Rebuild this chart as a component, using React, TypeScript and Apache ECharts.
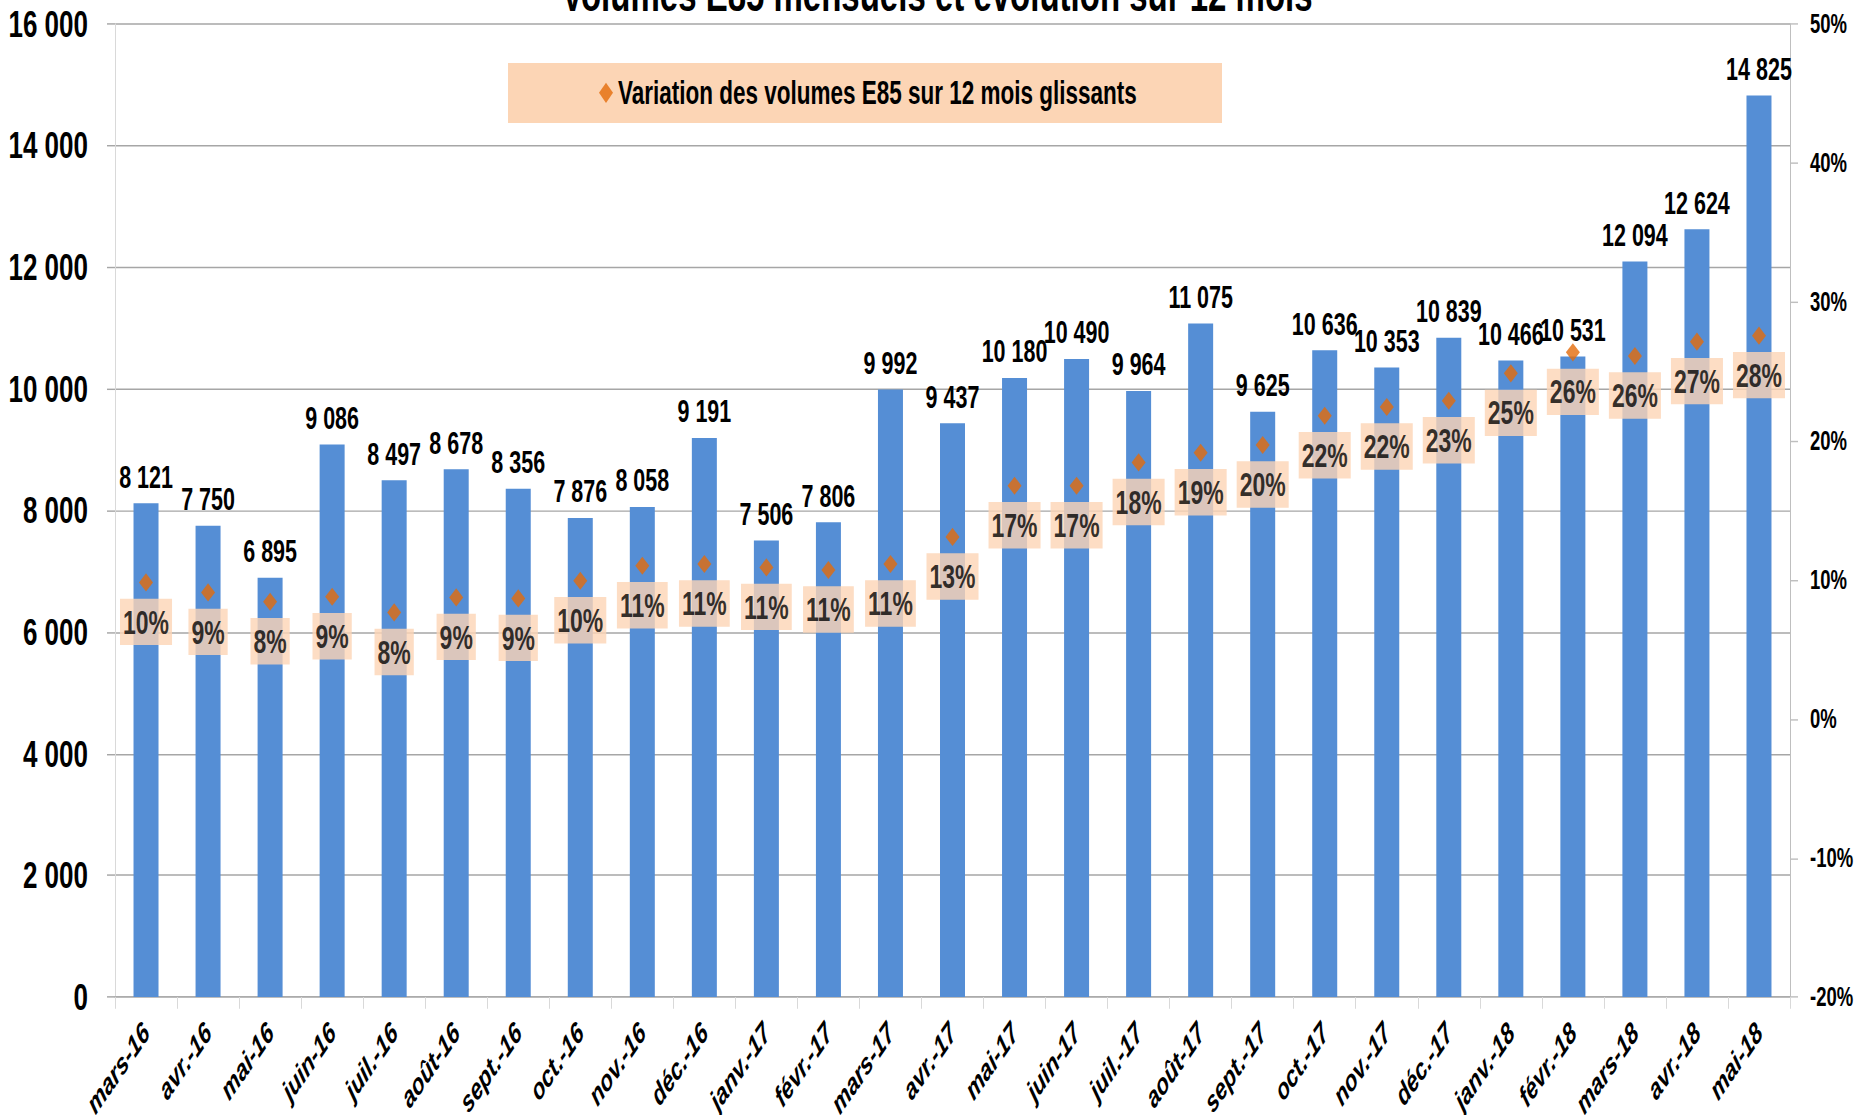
import React, { useEffect, useRef } from "react";
import * as echarts from "echarts";

const TITLE = "Volumes E85 mensuels et évolution sur 12 mois";
const LEGEND_NAME = "Variation des volumes E85 sur 12 mois glissants";

const categories = [
  "mars-16", "avr.-16", "mai-16", "juin-16", "juil.-16", "août-16", "sept.-16",
  "oct.-16", "nov.-16", "déc.-16", "janv.-17", "févr.-17", "mars-17", "avr.-17",
  "mai-17", "juin-17", "juil.-17", "août-17", "sept.-17", "oct.-17", "nov.-17",
  "déc.-17", "janv.-18", "févr.-18", "mars-18", "avr.-18", "mai-18",
];

const volumes = [
  8121, 7750, 6895, 9086, 8497, 8678, 8356, 7876, 8058, 9191, 7506, 7806, 9992,
  9437, 10180, 10490, 9964, 11075, 9625, 10636, 10353, 10839, 10466, 10531,
  12094, 12624, 14825,
];

// 12-month rolling variation, in %
const variations = [
  9.83, 9.11, 8.44, 8.8, 7.67, 8.75, 8.68, 9.95, 11.03, 11.15, 10.91, 10.72,
  11.15, 13.1, 16.78, 16.78, 18.46, 19.16, 19.71, 21.82, 22.45, 22.9, 24.87,
  26.38, 26.12, 27.15, 27.58,
];

const leftAxis = { min: 0, max: 16000, interval: 2000 };
const rightAxis = { min: -20, max: 50, interval: 10 };

// The reference picture is stretched vertically; the chart is drawn at a
// reduced height and stretched back with a CSS transform.
const W = 1856;
const H = 1115;
const SY = 1.45;
const INNER_H = H / SY;

const FONT = "'Liberation Sans', Arial, sans-serif";

const fmtThousands = (v: number) =>
  String(Math.round(v)).replace(/\B(?=(\d{3})+(?!\d))/g, " ");

export default function App() {
  const ref = useRef<HTMLDivElement>(null);

  useEffect(() => {
    if (!ref.current) return;
    const chart = echarts.init(ref.current, undefined, { renderer: "svg" });
    chart.setOption({
      animation: false,
      backgroundColor: "#ffffff",
      textStyle: { fontFamily: FONT },
      title: {
        text: TITLE,
        left: 937,
        textAlign: "center",
        top: -20,
        padding: 0,
        textStyle: {
          fontFamily: FONT,
          fontSize: 33,
          fontWeight: "bold",
          color: "#000",
        },
      },
      graphic: [
        {
          type: "rect",
          left: 508,
          top: 63 / SY,
          z: 0,
          shape: { width: 714, height: 60 / SY },
          style: { fill: "#FCD5B5" },
        },
      ],
      legend: {
        data: [{ name: LEGEND_NAME, icon: "diamond" }],
        left: 599,
        top: 52,
        padding: 0,
        itemWidth: 14,
        itemHeight: 14,
        z: 5,
        textStyle: {
          fontFamily: FONT,
          fontSize: 22.5,
          fontWeight: "bold",
          color: "#000",
          lineHeight: 24,
        },
      },
      grid: {
        left: 115,
        right: 66,
        top: 24 / SY,
        bottom: 118 / SY,
        containLabel: false,
        outerBoundsMode: "none",
      },
      xAxis: {
        type: "category",
        data: categories,
        axisLine: { lineStyle: { color: "#A6A6A6", width: 1 } },
        axisTick: { show: true, length: 8, lineStyle: { color: "#D9D9D9" } },
        axisLabel: {
          interval: 0,
          rotate: 45,
          margin: 21,
          fontFamily: FONT,
          fontSize: 20.5,
          fontWeight: "bold",
          fontStyle: "italic",
          color: "#000",
        },
      },
      yAxis: [
        {
          type: "value",
          position: "left",
          min: leftAxis.min,
          max: leftAxis.max,
          interval: leftAxis.interval,
          axisLine: { show: true, lineStyle: { color: "#D9D9D9" } },
          axisTick: { show: true, length: 8, lineStyle: { color: "#A6A6A6" } },
          splitLine: { lineStyle: { color: "#A6A6A6", width: 1 } },
          axisLabel: {
            formatter: (v: number) => fmtThousands(v),
            margin: 27,
            fontFamily: FONT,
            fontSize: 26,
            fontWeight: "bold",
            color: "#000",
          },
        },
        {
          type: "value",
          position: "right",
          min: rightAxis.min,
          max: rightAxis.max,
          interval: rightAxis.interval,
          axisLine: { show: true, lineStyle: { color: "#BFBFBF" } },
          axisTick: { show: true, length: 8, lineStyle: { color: "#BFBFBF" } },
          splitLine: { show: false },
          axisLabel: {
            formatter: (v: number) => `${v}%`,
            margin: 20,
            fontFamily: FONT,
            fontSize: 18.5,
            fontWeight: "bold",
            color: "#000",
          },
        },
      ],
      series: [
        {
          type: "bar",
          name: "Volumes E85",
          data: volumes,
          barWidth: 25,
          itemStyle: { color: "#558ED5" },
          label: {
            show: true,
            position: "top",
            distance: 7,
            formatter: (p: any) => fmtThousands(p.value),
            fontFamily: FONT,
            fontSize: 21.5,
            fontWeight: "bold",
            color: "#000",
          },
        },
        {
          type: "scatter",
          name: LEGEND_NAME,
          yAxisIndex: 1,
          data: variations,
          symbol: "diamond",
          symbolSize: [14, 12.5],
          z: 4,
          itemStyle: { color: "#E46C0A" },
          label: {
            show: true,
            position: "bottom",
            distance: 5,
            formatter: (p: any) => `${Math.round(p.value)}%`,
            backgroundColor: "#FCD5B5",
            padding: [4, 3, 4, 3],
            fontFamily: FONT,
            fontSize: 23,
            lineHeight: 24,
            fontWeight: "bold",
            color: "#000",
          },
        },
      ],
    });
    return () => chart.dispose();
  }, []);

  return (
    <div
      style={{
        position: "fixed",
        left: 0,
        top: 0,
        width: W,
        height: H,
        overflow: "hidden",
        background: "#fff",
      }}
    >
      <div
        ref={ref}
        style={{
          width: W,
          height: INNER_H,
          transform: `scaleY(${SY})`,
          transformOrigin: "0 0",
        }}
      />
    </div>
  );
}
